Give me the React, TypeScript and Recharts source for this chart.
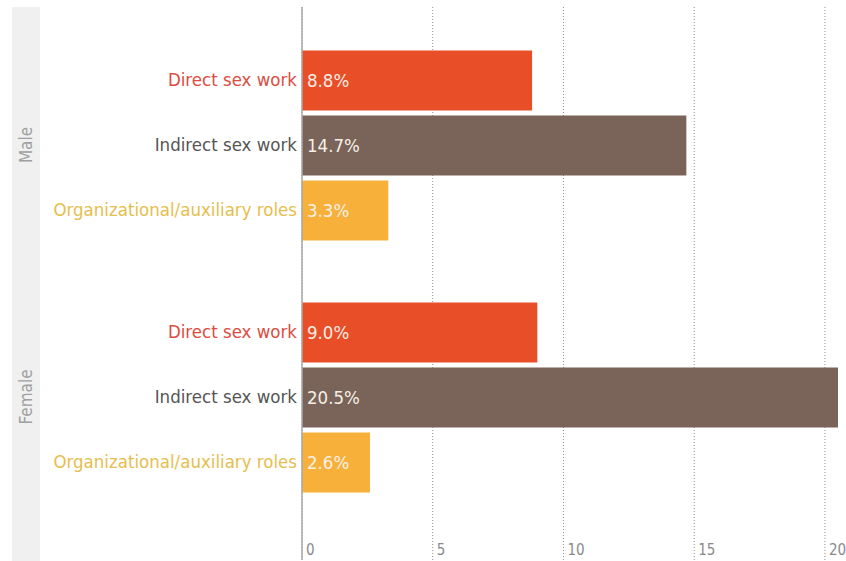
import { BarChart, Bar, XAxis, YAxis, CartesianGrid, Cell, LabelList } from "recharts";

const categories = ["Direct sex work", "Indirect sex work", "Organizational/auxiliary roles"];
const maleValues = [8.8, 14.7, 3.3];
const femaleValues = [9.0, 20.5, 2.6];
const xTicks = [0, 5, 10, 15, 20];
const groups = ["Male", "Female"];

const barColors = ["#e84e27", "#7a645a", "#f7b13a"];
const labelColors = ["#dc4c3f", "#555555", "#e6be4e"];

const FONT = "'Liberation Sans Narrow', 'DejaVu Sans Condensed', 'Roboto', sans-serif";

const toRows = (vals: number[]) => categories.map((name, i) => ({ name, value: vals[i] }));

function CatTick(props: any) {
  const { x, y, payload } = props;
  const idx = categories.indexOf(payload.value);
  return (
    <text x={x} y={y} dy="0.35em" textAnchor="end" fontSize={18.5} fontFamily={FONT} fill={labelColors[idx]}>
      {payload.value}
    </text>
  );
}

function ValTick(props: any) {
  const { x, y, payload, show } = props;
  if (!show) return <g />;
  return (
    <text x={x + 4} y={y - 5} textAnchor="start" fontSize={15} fontFamily={FONT} fill="#8a8a8a">
      {payload.value}
    </text>
  );
}

function GroupChart({ values, height, padTop, padBottom, showTicks, top }: any) {
  return (
    <div style={{ position: "absolute", left: 0, top, width: 846, height }}>
      <BarChart
        width={846}
        height={height}
        data={toRows(values)}
        layout="vertical"
        margin={{ top: top === 0 ? 7 : 0, right: 8, bottom: 0, left: 12 }}
      >
        <CartesianGrid horizontal={false} stroke="#8f8f8f" strokeDasharray="1 2" syncWithTicks />
        <XAxis
          type="number"
          domain={[0, 20.5]}
          ticks={xTicks}
          height={1}
          axisLine={false}
          tickLine={false}
          tickSize={0}
          tickMargin={0}
          tick={<ValTick show={showTicks} />}
        />
        <YAxis
          type="category"
          dataKey="name"
          width={290}
          padding={{ top: padTop, bottom: padBottom }}
          axisLine={{ stroke: "#a8a8a8", strokeWidth: 1.5 }}
          tickLine={false}
          tickSize={0}
          tickMargin={5}
          tick={<CatTick />}
          interval={0}
        />
        <Bar dataKey="value" barSize={60} isAnimationActive={false}>
          {values.map((_: number, i: number) => (
            <Cell key={i} fill={barColors[i]} />
          ))}
          <LabelList
            dataKey="value"
            position="insideLeft"
            offset={5}
            formatter={(v: any) => `${Number(v).toFixed(1)}%`}
            style={{ fill: "#f6efe6", fontSize: 18.5, fontFamily: FONT }}
          />
        </Bar>
      </BarChart>
    </div>
  );
}

export default function App() {
  return (
    <div style={{ position: "absolute", left: 0, top: 0, width: 846, height: 561, background: "#fff", overflow: "hidden" }}>
      <div style={{ position: "absolute", left: 12, top: 7, width: 28, height: 554, background: "#f0f0f0" }} />
      {groups.map((g, i) => (
        <div
          key={g}
          style={{
            position: "absolute",
            left: 26,
            top: i === 0 ? 145 : 397,
            transform: "translate(-50%, -50%) rotate(-90deg)",
            fontFamily: FONT,
            fontSize: 17,
            color: "#a0a0a0",
            whiteSpace: "nowrap",
          }}
        >
          {g}
        </div>
      ))}
      <GroupChart values={maleValues} height={272} top={0} padTop={40.5} padBottom={28.5} showTicks={false} />
      <GroupChart values={femaleValues} height={290} top={271} padTop={28.5} padBottom={65.5} showTicks={true} />
    </div>
  );
}
